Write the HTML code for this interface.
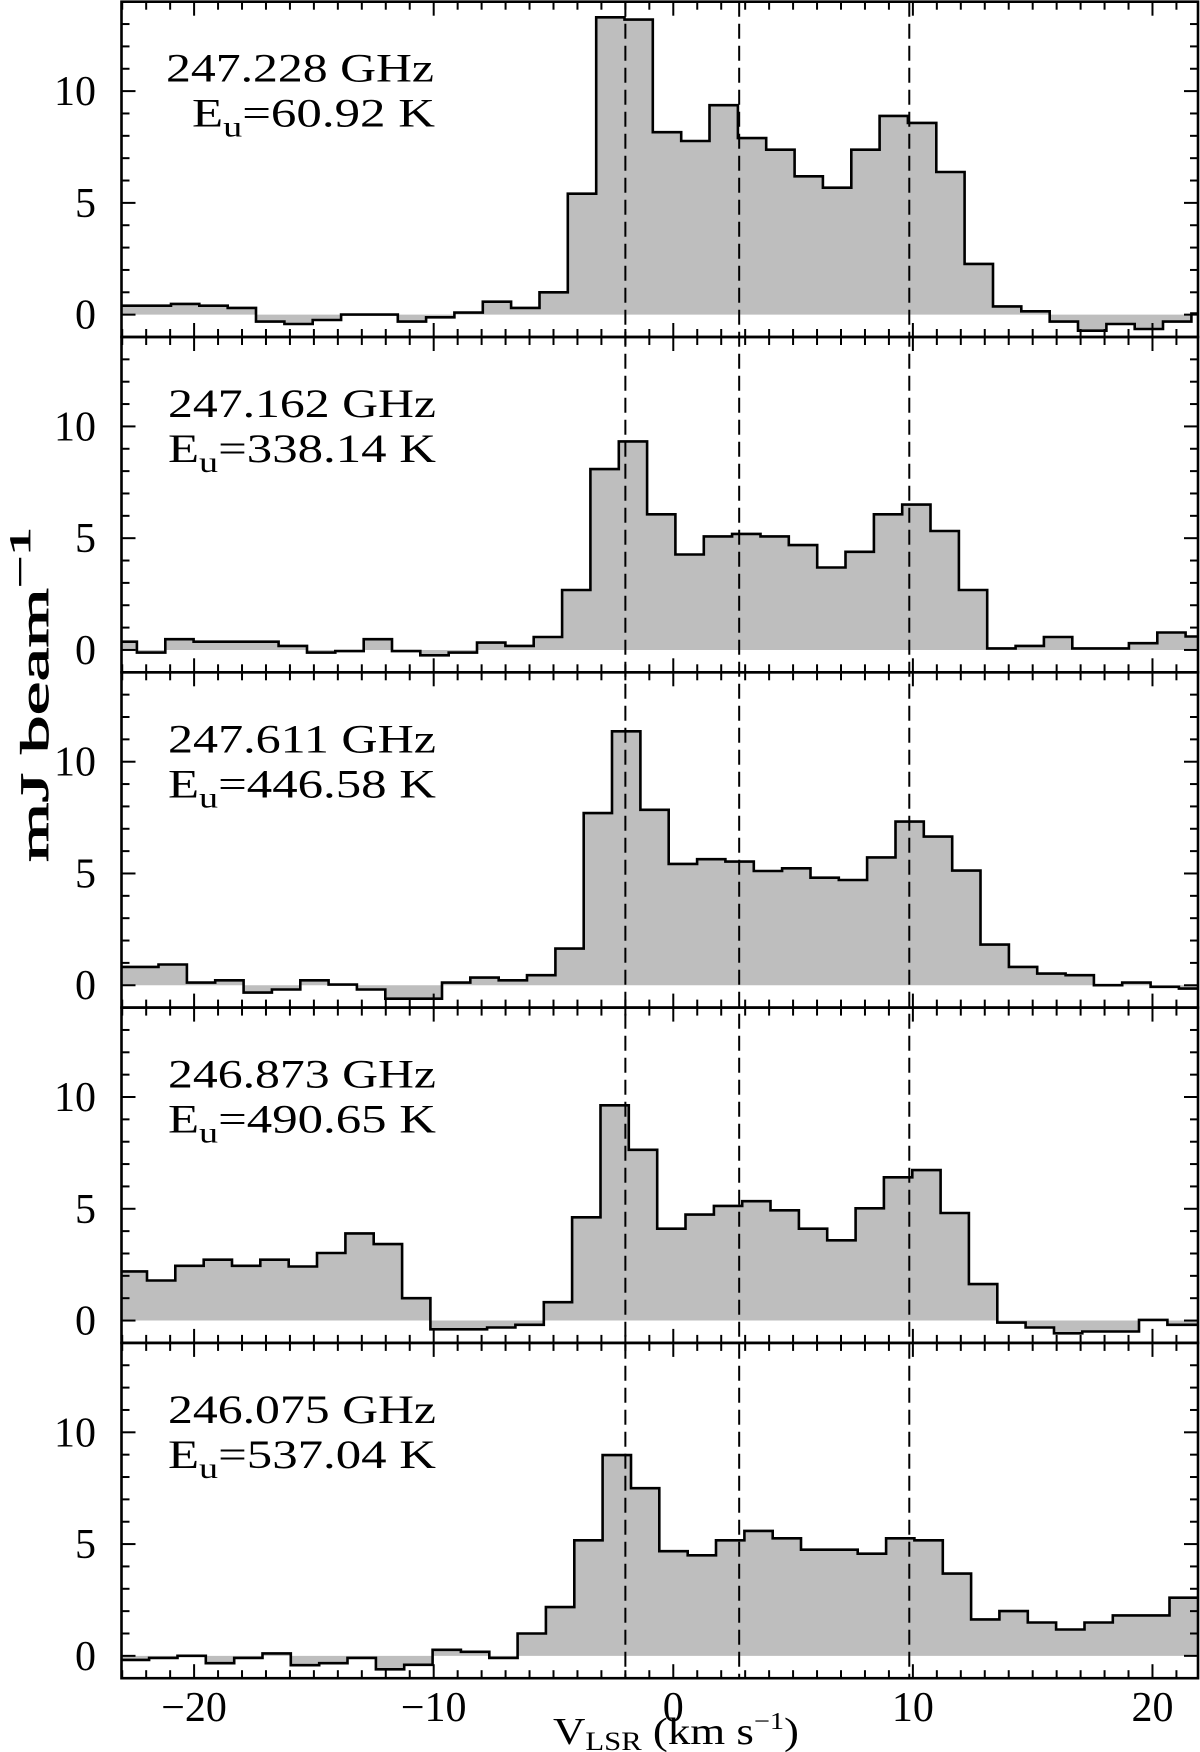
<!DOCTYPE html>
<html><head><meta charset="utf-8">
<style>
html,body{margin:0;padding:0;background:#fff;}
svg{display:block;}
text{font-family:"Liberation Serif","DejaVu Serif",serif;fill:#000;}
</style></head>
<body>
<svg id="chart" xmlns="http://www.w3.org/2000/svg" width="1200" height="1752" viewBox="0 0 1200 1752"></svg>
<script>
// ---- data ----
const chanWidth = 1.183;
const panelFreqs = ["247.228 GHz","247.162 GHz","247.611 GHz","246.873 GHz","246.075 GHz"];
const panelEu = ["=60.92 K","=338.14 K","=446.58 K","=490.65 K","=537.04 K"];
const panelStart = [-23.33, -23.57, -23.85, -23.15, -23.06];
const spec1 = [0.4,0.4,0.48,0.4,0.3,-0.31,-0.42,-0.24,0,0,-0.31,-0.12,0.09,0.58,0.3,1.0,5.41,13.3,13.2,8.16,7.77,9.37,7.9,7.38,6.19,5.68,7.38,8.89,8.58,6.38,2.27,0.37,0.15,-0.31,-0.72,-0.42,-0.64,-0.31,0.05];
const spec2 = [0.37,-0.12,0.48,0.37,0.37,0.37,0.18,-0.12,-0.05,0.48,-0.05,-0.24,-0.12,0.33,0.18,0.58,2.68,8.09,9.33,6.07,4.27,5.08,5.19,5.08,4.69,3.69,4.39,6.07,6.5,5.32,2.68,0.07,0.18,0.58,0.07,0.07,0.3,0.78,0.6];
const spec3 = [0.82,0.82,0.93,0.12,0.22,-0.33,-0.19,0.22,0.03,-0.19,-0.6,-0.6,0.12,0.34,0.22,0.45,1.64,7.7,11.36,7.85,5.43,5.64,5.53,5.11,5.23,4.81,4.71,5.72,7.32,6.65,5.13,1.82,0.82,0.52,0.45,0,0.12,-0.07,-0.15];
const spec4 = [2.2,1.79,2.45,2.72,2.45,2.72,2.42,3.02,3.9,3.42,1.0,-0.39,-0.39,-0.31,-0.19,0.82,4.62,9.63,7.64,4.11,4.74,5.13,5.34,4.93,4.11,3.59,5.02,6.41,6.73,4.81,1.63,-0.09,-0.31,-0.57,-0.49,-0.49,0.03,-0.19,-0.19];
const spec5 = [-0.18,-0.09,0,-0.33,-0.09,0.11,-0.42,-0.33,-0.09,-0.6,-0.4,0.27,0.18,-0.09,1.0,2.18,5.17,8.98,7.5,4.68,4.5,5.17,5.59,5.26,4.75,4.75,4.57,5.26,5.17,3.68,1.63,2.0,1.49,1.18,1.49,1.81,1.81,2.6];
const markerVel = [-2.0, 2.75, 9.85];
const xTickLabels = [-20,-10,0,10,20];
const yTickLabels = [0,5,10];
const xMin = -23.03, xMax = 21.9, yMin = -1.0, yMax = 14.0;

// ---- layout ----
const NS = "http://www.w3.org/2000/svg";
const svg = document.getElementById("chart");
const left = 121.5, right = 1198, top0 = 1.7, panelH = 335.3;
const X = v => left + (v - xMin) / (xMax - xMin) * (right - left);
const Y = (k, val) => top0 + panelH * k + (yMax - val) / (yMax - yMin) * panelH;
function mk(tag, attrs, parent) {
  const e = document.createElementNS(NS, tag);
  for (const k in attrs) e.setAttribute(k, attrs[k]);
  (parent || svg).appendChild(e);
  return e;
}
const specs = [spec1, spec2, spec3, spec4, spec5];

specs.forEach((vals, k) => {
  const g = mk("g", {});
  
  
  let pts = [];
  vals.forEach((val, i) => {
    let a = panelStart[k] + chanWidth * i, b = a + chanWidth;
    a = Math.max(a, xMin); b = Math.min(b, xMax);
    if (b <= a) return;
    pts.push([X(a), Y(k, val)], [X(b), Y(k, val)]);
  });
  const y0 = Y(k, 0);
  let fd = "M" + pts[0][0] + "," + y0;
  pts.forEach(p => fd += " L" + p[0].toFixed(1) + "," + p[1].toFixed(1));
  fd += " L" + pts[pts.length - 1][0] + "," + y0 + " Z";
  const fill = mk("path", {d: fd, fill: "#bebebe", stroke: "none"}, g);
  
  
  let ld = "";
  pts.forEach((p, i) => ld += (i ? " L" : "M") + p[0].toFixed(1) + "," + p[1].toFixed(1));
  const line = mk("path", {d: ld, fill: "none", stroke: "#000", "stroke-width": 2.6}, g);
  
  

  const pt = top0 + panelH * k, pb = pt + panelH;
  for (let v = Math.ceil(xMin); v <= xMax; v++) {
    const len = (v % 10 === 0) ? 14 : 8;
    mk("line", {x1: X(v), x2: X(v), y1: pt, y2: pt + len, stroke: "#000", "stroke-width": 2}, g);
    mk("line", {x1: X(v), x2: X(v), y1: pb, y2: pb - len, stroke: "#000", "stroke-width": 2}, g);
  }
  for (let v = Math.ceil(yMin); v <= yMax; v++) {
    const len = (v % 5 === 0) ? 14 : 8;
    mk("line", {x1: left, x2: left + len, y1: Y(k, v), y2: Y(k, v), stroke: "#000", "stroke-width": 2}, g);
    mk("line", {x1: right, x2: right - len, y1: Y(k, v), y2: Y(k, v), stroke: "#000", "stroke-width": 2}, g);
  }
  yTickLabels.forEach(t => {
    const tx = mk("text", {x: 96, y: Y(k, t) + 14, "text-anchor": "end", "font-size": 42}, g);
    tx.textContent = t;
    
    
  });
  const fr = mk("rect", {x: left, y: pt, width: right - left, height: panelH, fill: "none", stroke: "#000", "stroke-width": 2.6}, g);
  
  
  const first = k === 0;
  const t1 = mk("text", {x: first ? 166 : 168, y: pt + 80, "font-size": 40, textLength: 268, lengthAdjust: "spacingAndGlyphs"}, g);
  t1.textContent = panelFreqs[k];
  
  
  const t2 = mk("text", {x: first ? 192 : 168, y: pt + 125, "font-size": 40, textLength: first ? 243 : 268, lengthAdjust: "spacingAndGlyphs"}, g);
  
  
  const s1 = mk("tspan", {}, t2); s1.textContent = "E";
  const s2 = mk("tspan", {dy: 10, "font-size": 30}, t2); s2.textContent = "u";
  const s3 = mk("tspan", {dy: -10}, t2); s3.textContent = panelEu[k];
});

markerVel.forEach(v => {
  const l = mk("line", {x1: X(v), x2: X(v), y1: top0, y2: top0 + 5 * panelH, stroke: "#000", "stroke-width": 2, "stroke-dasharray": "15 7"});
  
  
});

xTickLabels.forEach(t => {
  const tx = mk("text", {x: X(t), y: top0 + 5 * panelH + 43, "text-anchor": "middle", "font-size": 42});
  tx.textContent = (t < 0 ? "\u2212" : "") + Math.abs(t);
  
  
});
</script>
<svg style="position:absolute;left:0;top:0" width="1200" height="1752">
  <text x="553" y="1744" font-size="38" font-family="Liberation Serif, serif" textLength="246" lengthAdjust="spacingAndGlyphs">V<tspan font-size="26" dy="6">LSR</tspan><tspan dy="-6"> (km s</tspan><tspan font-size="24" dy="-15">−1</tspan><tspan dy="15">)</tspan></text>
  <text transform="translate(48,862) rotate(-90)" font-size="40" stroke="#000" stroke-width="0.8" font-family="Liberation Serif, serif" textLength="335" lengthAdjust="spacingAndGlyphs">mJ beam<tspan font-size="30" dy="-18">−1</tspan></text>
</svg>
</body></html>
